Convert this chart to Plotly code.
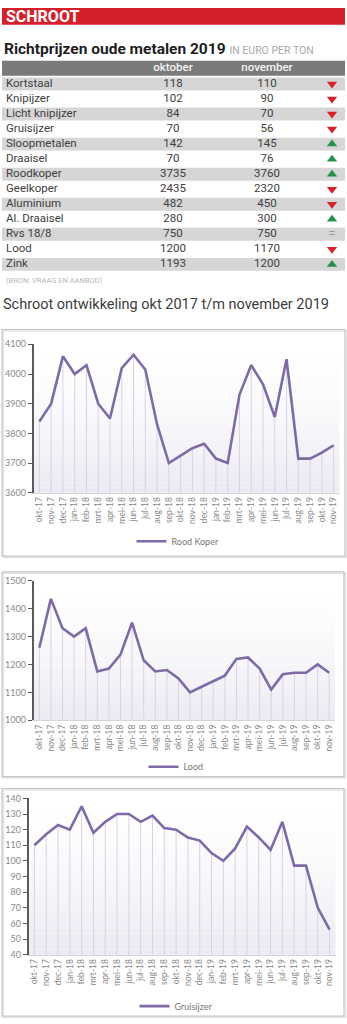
import plotly.graph_objects as go

W, H = 347, 1024

# ---------------- data ----------------
metals = ["Kortstaal", "Knipijzer", "Licht knipijzer", "Gruisijzer", "Sloopmetalen", "Draaisel",
          "Roodkoper", "Geelkoper", "Aluminium", "Al. Draaisel", "Rvs 18/8", "Lood", "Zink"]
oktober = [118, 102, 84, 70, 142, 70, 3735, 2435, 482, 280, 750, 1200, 1193]
november = [110, 90, 70, 56, 145, 76, 3760, 2320, 450, 300, 750, 1170, 1200]

months = ["okt-17", "nov-17", "dec-17", "jan-18", "feb-18", "mrt-18", "apr-18", "mei-18", "jun-18",
          "jul-18", "aug-18", "sep-18", "okt-18", "nov-18", "dec-18", "jan-19", "feb-19", "mrt-19",
          "apr-19", "mei-19", "jun-19", "jul-19", "aug-19", "sep-19", "okt-19", "nov-19"]
rood_koper = [3840, 3900, 4060, 4000, 4030, 3900, 3850, 4020, 4065, 4015, 3830, 3700, 3725,
              3750, 3765, 3715, 3700, 3930, 4030, 3965, 3855, 4050, 3715, 3715, 3735, 3760]
lood = [1260, 1435, 1330, 1300, 1330, 1175, 1185, 1235, 1350, 1215, 1175, 1180, 1150,
        1100, 1120, 1140, 1160, 1220, 1225, 1185, 1110, 1165, 1170, 1170, 1200, 1170]
gruisijzer = [110, 117, 123, 120, 135, 118, 125, 130, 130, 125, 129, 121, 120,
              115, 113, 105, 100, 108, 122, 115, 107, 125, 97, 97, 70, 56]


def px(x):
    return x / W


def py(y):
    return 1 - y / H


PURPLE = "#7e6aa8"
DROP = "#d9d2e7"
TICK = "#8a8a8a"
FONT_T = "Roboto"
FONT_C = "Lato"

fig = go.Figure()
shapes = []
annotations = []
layout_axes = {}

# ---------------- line charts ----------------
charts = [
    dict(name="Rood Koper", values=rood_koper, yr=(3600, 4100), dtick=100,
         plot=(33.5, 339.5, 342, 492), frame=(2, 345, 327, 556), legend=(178, 541)),
    dict(name="Lood", values=lood, yr=(1000, 1500), dtick=100,
         plot=(33.5, 335, 581, 722), frame=(2, 344, 572, 779), legend=(176, 769)),
    dict(name="Gruisijzer", values=gruisijzer, yr=(40, 140), dtick=10,
         plot=(28.5, 335.5, 801, 959), frame=(2, 344, 791, 1021), legend=(176, 1011)),
]

for i, c in enumerate(charts, start=1):
    sfx = "" if i == 1 else str(i)
    xa, ya = f"x{sfx}", f"y{sfx}"
    lg = f"legend{sfx}"
    ymin = c["yr"][0]
    vals = c["values"]
    # drop lines
    fig.add_trace(go.Scatter(
        x=months, y=vals, mode="markers", xaxis=xa, yaxis=ya, showlegend=False,
        marker=dict(size=1, color="rgba(0,0,0,0)"), hoverinfo="skip",
        error_y=dict(type="data", symmetric=False, array=[0] * len(vals),
                     arrayminus=[v - ymin for v in vals], color=DROP, thickness=1, width=0)))
    fig.add_trace(go.Scatter(
        x=months, y=vals, mode="lines", name=c["name"], xaxis=xa, yaxis=ya, legend=lg,
        line=dict(color=PURPLE, width=2.6)))
    x0, x1, y0, y1 = c["plot"]
    layout_axes[f"xaxis{sfx}"] = dict(
        domain=[px(x0), px(x1)], anchor=ya, type="category", range=[-0.5, len(months) - 0.5],
        tickangle=-90, tickfont=dict(family=FONT_C, size=8.5, color=TICK), showline=True,
        linecolor="#d6d3dc", linewidth=1, showgrid=False, ticks="", zeroline=False, fixedrange=True)
    layout_axes[f"yaxis{sfx}"] = dict(
        domain=[py(y1), py(y0)], anchor=xa, range=list(c["yr"]), dtick=c["dtick"],
        tickfont=dict(family=FONT_C, size=9, color=TICK), showline=True, linecolor="#5a5a5a",
        linewidth=1.5, ticks="outside", ticklen=4, tickcolor="#5a5a5a", tickwidth=1,
        showgrid=False, zeroline=False, fixedrange=True)
    layout_axes[lg] = dict(x=px(c["legend"][0]), y=py(c["legend"][1]), xanchor="center",
                           yanchor="middle", orientation="h", bgcolor="rgba(0,0,0,0)",
                           font=dict(family=FONT_C, size=9, color="#777777"), itemwidth=30)
    # gradient background of plot area (white on top, soft lavender-grey at the bottom)
    nb = 30
    for b in range(nb):
        t = (b / (nb - 1)) ** 1.4
        r = int(round(255 - (255 - 236) * t))
        g = int(round(255 - (255 - 234) * t))
        bl = int(round(255 - (255 - 242) * t))
        shapes.append(dict(type="rect", xref=f"{xa} domain", yref=f"{ya} domain", layer="below",
                           x0=0, x1=1, y0=1 - (b + 1) / nb, y1=1 - b / nb,
                           fillcolor=f"rgb({r},{g},{bl})", line=dict(width=0)))
    # frame with subtle shadow
    fx0, fx1, fy0, fy1 = c["frame"]
    shapes.append(dict(type="rect", xref="paper", yref="paper", x0=px(fx0 + 1.5), x1=px(fx1 + 1.5),
                       y0=py(fy1 + 1.5), y1=py(fy0 + 1.5), line=dict(color="#e4e4e4", width=1.5),
                       layer="below"))
    shapes.append(dict(type="rect", xref="paper", yref="paper", x0=px(fx0), x1=px(fx1),
                       y0=py(fy1), y1=py(fy0), line=dict(color="#c4c4c4", width=1.2),
                       fillcolor="rgba(0,0,0,0)", layer="above"))

# ---------------- table ----------------
ROW0, PITCH = 78.8, 15.2
TR = (-1.6, 12.6)
HEADER_ROW = -1.05
rows = list(range(len(metals)))
gray_rows = [r for r in rows if r % 2 == 0]

fig.add_trace(go.Bar(
    y=[HEADER_ROW] + gray_rows, x=[343] * (len(gray_rows) + 1), base=2, orientation="h",
    width=[1.0] + [0.86] * len(gray_rows),
    marker=dict(color=["#7b7b7b"] + ["#d6d6d6"] * len(gray_rows), line=dict(width=0)),
    xaxis="x4", yaxis="y4", showlegend=False, hoverinfo="skip"))

tfont = dict(family=FONT_T, size=11.5, color="#404040")
fig.add_trace(go.Scatter(x=[6] * len(metals), y=rows, text=metals, mode="text",
                         textposition="middle right", textfont=tfont, xaxis="x4", yaxis="y4",
                         showlegend=False, hoverinfo="skip"))
fig.add_trace(go.Scatter(x=[173] * len(metals), y=rows, text=[str(v) for v in oktober], mode="text",
                         textposition="middle center", textfont=tfont, xaxis="x4", yaxis="y4",
                         showlegend=False, hoverinfo="skip"))
fig.add_trace(go.Scatter(x=[267] * len(metals), y=rows, text=[str(v) for v in november], mode="text",
                         textposition="middle center", textfont=tfont, xaxis="x4", yaxis="y4",
                         showlegend=False, hoverinfo="skip"))
fig.add_trace(go.Scatter(x=[173, 267], y=[HEADER_ROW] * 2, text=["oktober", "november"], mode="text",
                         textposition="middle center",
                         textfont=dict(family=FONT_T, size=11.5, color="#f4f4f4", weight=500),
                         xaxis="x4", yaxis="y4", showlegend=False, hoverinfo="skip"))

down = [r for r in rows if november[r] < oktober[r]]
up = [r for r in rows if november[r] > oktober[r]]
same = [r for r in rows if november[r] == oktober[r]]
fig.add_trace(go.Scatter(x=[332] * len(down), y=down, mode="markers", xaxis="x4", yaxis="y4",
                         marker=dict(symbol="triangle-down", size=9, color="#d7222a"),
                         showlegend=False, hoverinfo="skip"))
fig.add_trace(go.Scatter(x=[332] * len(up), y=up, mode="markers", xaxis="x4", yaxis="y4",
                         marker=dict(symbol="triangle-up", size=9, color="#23934a"),
                         showlegend=False, hoverinfo="skip"))
fig.add_trace(go.Scatter(x=[332] * len(same), y=same, text=["="] * len(same), mode="text",
                         textposition="middle center", xaxis="x4", yaxis="y4",
                         textfont=dict(family=FONT_T, size=13, color="#9a9a9a"),
                         showlegend=False, hoverinfo="skip"))

layout_axes["xaxis4"] = dict(domain=[0, 1], range=[0, W], anchor="y4", visible=False, fixedrange=True)
layout_axes["yaxis4"] = dict(domain=[py(ROW0 + TR[1] * PITCH), py(ROW0 + TR[0] * PITCH)],
                             range=[TR[1], TR[0]], anchor="x4", visible=False, fixedrange=True)

# ---------------- header texts ----------------
shapes.append(dict(type="rect", xref="paper", yref="paper", x0=px(2), x1=px(345), y0=py(19),
                   y1=py(2), fillcolor="#d5202b", line=dict(width=0), layer="below"))
annotations.append(dict(text="<b>SCHROOT</b>", x=px(4), y=py(11), xref="paper", yref="paper",
                        xanchor="left", yanchor="middle", showarrow=False,
                        font=dict(family=FONT_T, size=16, color="white")))
annotations.append(dict(
    text="<b>Richtprijzen oude metalen 2019</b> "
         "<span style='font-size:10.5px;color:#a9a9a9'>IN EURO PER TON</span>",
    x=px(2), y=py(43), xref="paper", yref="paper", xanchor="left", yanchor="middle",
    showarrow=False, font=dict(family=FONT_T, size=15.5, color="#1e1e1e")))
annotations.append(dict(text="(BRON: VRAAG EN AANBOD)", x=px(4), y=py(277), xref="paper",
                        yref="paper", xanchor="left", yanchor="middle", showarrow=False,
                        font=dict(family=FONT_T, size=7.5, color="#b8b8b8")))
annotations.append(dict(text="Schroot ontwikkeling okt 2017 t/m november 2019", x=px(1), y=py(302),
                        xref="paper", yref="paper", xanchor="left", yanchor="middle",
                        showarrow=False, font=dict(family=FONT_T, size=14.5, color="#3c3c3c")))

fig.update_layout(
    width=W, height=H, margin=dict(l=0, r=0, t=0, b=0), paper_bgcolor="white",
    plot_bgcolor="white", hovermode=False, shapes=shapes, annotations=annotations,
    showlegend=True, **layout_axes)

fig.write_html("out.html", config={"displayModeBar": False})
